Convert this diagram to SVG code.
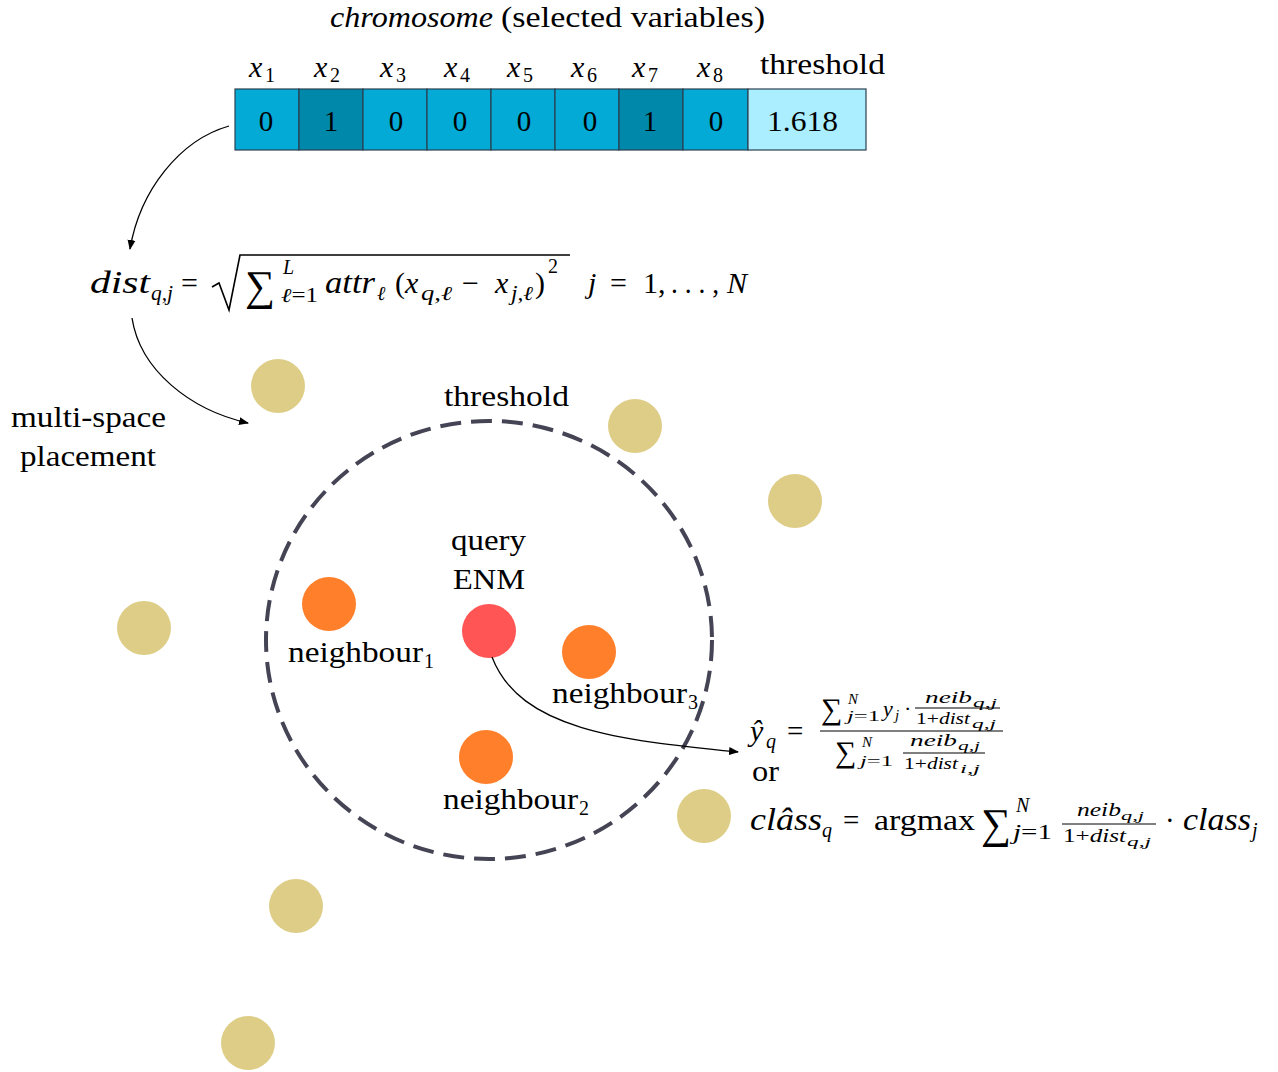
<svg xmlns="http://www.w3.org/2000/svg" width="1278" height="1072" viewBox="0 0 1278 1072">
<defs>
<style>
text{font-family:"Liberation Serif","DejaVu Serif",serif;fill:#000}
.t28{font-size:29px}
.i{font-style:italic}
.s20{font-size:20px}
.s15{font-size:15px}
.s12{font-size:12px}
.cell{stroke:#2b4050;stroke-width:1.2}
.c0{fill:#02aad5}
.c1{fill:#0088aa}
.cth{fill:#aaeeff}
.bg{fill:#decd87}
.nb{fill:#ff7f2a}
.q{fill:#ff5555}
.conn{fill:none;stroke:#000;stroke-width:1.3}
.ctr{text-anchor:middle}
.bar{stroke:#000;stroke-width:1}
</style>
<marker id="ah" viewBox="0 0 10 10" refX="9" refY="5" markerWidth="10" markerHeight="10" markerUnits="userSpaceOnUse" orient="auto">
<path d="M0,1 L10,5 L0,9 Z" fill="#000"/>
</marker>
</defs>
<rect width="1278" height="1072" fill="#fff"/>

<g id="title" font-size="29">
<text x="330" y="27" class="i" textLength="163" lengthAdjust="spacingAndGlyphs">chromosome</text>
<text x="501" y="27" textLength="264" lengthAdjust="spacingAndGlyphs">(selected variables)</text>
</g>

<g id="chromosome">
<rect class="cell c0" x="235" y="89" width="64" height="61"/>
<rect class="cell c1" x="299" y="89" width="64" height="61"/>
<rect class="cell c0" x="363" y="89" width="64" height="61"/>
<rect class="cell c0" x="427" y="89" width="64" height="61"/>
<rect class="cell c0" x="491" y="89" width="64" height="61"/>
<rect class="cell c0" x="555" y="89" width="64" height="61"/>
<rect class="cell c1" x="619" y="89" width="64" height="61"/>
<rect class="cell c0" x="683" y="89" width="65" height="61"/>
<rect class="cell cth" x="748" y="89" width="118" height="61"/>
<g class="t28 ctr">
<text x="266" y="131">0</text>
<text x="331" y="131">1</text>
<text x="396" y="131">0</text>
<text x="460" y="131">0</text>
<text x="524" y="131">0</text>
<text x="590" y="131">0</text>
<text x="650" y="131">1</text>
<text x="716" y="131">0</text>
</g>
<text class="t28" x="767" y="131" textLength="71" lengthAdjust="spacingAndGlyphs">1.618</text>
<g font-size="30">
<text x="249" y="77" class="i">x</text><text x="265" y="82" class="s20">1</text>
<text x="314" y="77" class="i">x</text><text x="330" y="82" class="s20">2</text>
<text x="380" y="77" class="i">x</text><text x="396" y="82" class="s20">3</text>
<text x="444" y="77" class="i">x</text><text x="460" y="82" class="s20">4</text>
<text x="507" y="77" class="i">x</text><text x="523" y="82" class="s20">5</text>
<text x="571" y="77" class="i">x</text><text x="587" y="82" class="s20">6</text>
<text x="632" y="77" class="i">x</text><text x="648" y="82" class="s20">7</text>
<text x="697" y="77" class="i">x</text><text x="713" y="82" class="s20">8</text>
<text x="760" y="74" font-size="29" textLength="125" lengthAdjust="spacingAndGlyphs">threshold</text>
</g>
</g>

<g id="dist-formula" font-size="30">
<text x="90" y="293" class="i" font-size="32" textLength="60" lengthAdjust="spacingAndGlyphs">dist</text>
<text x="151" y="300" class="s20 i" textLength="22" lengthAdjust="spacingAndGlyphs">q,j</text>
<text x="181" y="293">=</text>
<path d="M212,287 L219,283 L229,310 L240,255 L570,255" fill="none" stroke="#000" stroke-width="1.6"/>
<text x="245" y="300" font-size="42">∑</text>
<text x="283" y="274" class="s20 i">L</text>
<text x="281" y="302" class="s20" textLength="37" lengthAdjust="spacingAndGlyphs"><tspan class="i">ℓ</tspan>=1</text>
<text x="325" y="293" class="i" font-size="32" textLength="50" lengthAdjust="spacingAndGlyphs">attr</text>
<text x="377" y="300" class="s20 i">ℓ</text>
<text x="395" y="293">(</text>
<text x="405" y="293" class="i">x</text>
<text x="421" y="300" class="s20 i" textLength="31" lengthAdjust="spacingAndGlyphs">q,ℓ</text>
<text x="462" y="293">−</text>
<text x="495" y="293" class="i">x</text>
<text x="511" y="300" class="s20 i" textLength="22" lengthAdjust="spacingAndGlyphs">j,ℓ</text>
<text x="535" y="293">)</text>
<text x="548" y="273" class="s20">2</text>
<text x="588" y="293" class="i">j</text>
<text x="610" y="293">=</text>
<text x="643" y="293">1,</text>
<text x="671" y="293" textLength="48" lengthAdjust="spacingAndGlyphs">. . . ,</text>
<text x="727" y="293" class="i">N</text>
</g>

<g id="region">
<ellipse cx="489" cy="640" rx="223" ry="219" fill="none" stroke="#444455" stroke-width="4" stroke-dasharray="21,10"/>
<text class="t28" x="444" y="406" textLength="125" lengthAdjust="spacingAndGlyphs">threshold</text>
</g>

<g id="placement-label" class="t28">
<text x="11" y="427" textLength="155" lengthAdjust="spacingAndGlyphs">multi-space</text>
<text x="20" y="466" textLength="136" lengthAdjust="spacingAndGlyphs">placement</text>
</g>

<g id="background-points">
<circle class="bg" cx="278" cy="386" r="27"/>
<circle class="bg" cx="635" cy="426" r="27"/>
<circle class="bg" cx="795" cy="501" r="27"/>
<circle class="bg" cx="144" cy="628" r="27"/>
<circle class="bg" cx="704" cy="816" r="27"/>
<circle class="bg" cx="296" cy="906" r="27"/>
<circle class="bg" cx="248" cy="1043" r="27"/>
</g>

<g id="neighbour1">
<circle class="nb" cx="329" cy="604" r="27"/>
<text class="t28" x="288" y="662" textLength="135" lengthAdjust="spacingAndGlyphs">neighbour</text>
<text class="s20" x="424" y="668">1</text>
</g>
<g id="neighbour2">
<circle class="nb" cx="486" cy="757" r="27"/>
<text class="t28" x="443" y="809" textLength="135" lengthAdjust="spacingAndGlyphs">neighbour</text>
<text class="s20" x="579" y="815">2</text>
</g>
<g id="neighbour3">
<circle class="nb" cx="589" cy="652" r="27"/>
<text class="t28" x="552" y="703" textLength="135" lengthAdjust="spacingAndGlyphs">neighbour</text>
<text class="s20" x="688" y="709">3</text>
</g>
<g id="query">
<circle class="q" cx="489" cy="631" r="27"/>
<text class="t28" x="451" y="550" textLength="75" lengthAdjust="spacingAndGlyphs">query</text>
<text class="t28" x="453" y="589" textLength="72" lengthAdjust="spacingAndGlyphs">ENM</text>
</g>

<g id="prediction-formula">
<text x="750" y="741" font-size="30" class="i">ŷ</text>
<text x="766" y="748" class="s20 i">q</text>
<text x="787" y="741" font-size="29">=</text>
<line class="bar" x1="820" y1="731" x2="1003" y2="731" stroke-width="1.2"/>
<text x="821" y="719" font-size="30">∑</text>
<text x="848" y="704" class="s15 i">N</text>
<text x="847" y="721" class="s15" textLength="33" lengthAdjust="spacingAndGlyphs"><tspan class="i">j</tspan>=1</text>
<text x="883" y="716" font-size="22" class="i">y</text>
<text x="895" y="720" class="s15 i">j</text>
<text x="904" y="716" font-size="22">·</text>
<text x="925" y="703" font-size="16" class="i" textLength="47" lengthAdjust="spacingAndGlyphs">neib</text>
<text x="973" y="707" class="s12 i" textLength="24" lengthAdjust="spacingAndGlyphs">q,j</text>
<line class="bar" x1="915" y1="708" x2="1000" y2="708"/>
<text x="916" y="724" font-size="16" textLength="54" lengthAdjust="spacingAndGlyphs">1+<tspan class="i">dist</tspan></text>
<text x="972" y="728" class="s12 i" textLength="24" lengthAdjust="spacingAndGlyphs">q,j</text>
<text x="835" y="762" font-size="30">∑</text>
<text x="862" y="747" class="s15 i">N</text>
<text x="860" y="766" class="s15" textLength="33" lengthAdjust="spacingAndGlyphs"><tspan class="i">j</tspan>=1</text>
<text x="910" y="746" font-size="16" class="i" textLength="47" lengthAdjust="spacingAndGlyphs">neib</text>
<text x="958" y="750" class="s12 i" textLength="22" lengthAdjust="spacingAndGlyphs">q,j</text>
<line class="bar" x1="903" y1="753" x2="985" y2="753"/>
<text x="904" y="769" font-size="16" textLength="54" lengthAdjust="spacingAndGlyphs">1+<tspan class="i">dist</tspan></text>
<text x="960" y="773" class="s12 i" textLength="20" lengthAdjust="spacingAndGlyphs">i,j</text>
<text x="752" y="781" font-size="29" textLength="27" lengthAdjust="spacingAndGlyphs">or</text>
<text x="750" y="830" font-size="32" class="i" textLength="72" lengthAdjust="spacingAndGlyphs">clâss</text>
<text x="822" y="837" class="s20 i">q</text>
<text x="843" y="830" font-size="29">=</text>
<text x="874" y="830" font-size="29" textLength="101" lengthAdjust="spacingAndGlyphs">argmax</text>
<text x="981" y="838" font-size="42">∑</text>
<text x="1016" y="812" class="s20 i">N</text>
<text x="1013" y="839" class="s20" textLength="39" lengthAdjust="spacingAndGlyphs"><tspan class="i">j</tspan>=1</text>
<text x="1077" y="816" font-size="18" class="i" textLength="44" lengthAdjust="spacingAndGlyphs">neib</text>
<text x="1121" y="820" font-size="13" class="i" textLength="23" lengthAdjust="spacingAndGlyphs">q,j</text>
<line class="bar" x1="1062" y1="824" x2="1156" y2="824"/>
<text x="1063" y="842" font-size="18" textLength="63" lengthAdjust="spacingAndGlyphs">1+<tspan class="i">dist</tspan></text>
<text x="1127" y="846" font-size="13" class="i" textLength="24" lengthAdjust="spacingAndGlyphs">q,j</text>
<text x="1165" y="830" font-size="29">·</text>
<text x="1183" y="830" font-size="32" class="i" textLength="68" lengthAdjust="spacingAndGlyphs">class</text>
<text x="1252" y="837" class="s20 i">j</text>
</g>

<g id="connectors">
<path class="conn" d="M229,126 C180,140 140,190 130,249" marker-end="url(#ah)"/>
<path class="conn" d="M132,318 C140,370 190,410 248,423" marker-end="url(#ah)"/>
<path class="conn" d="M492,657 C520,730 620,740 738,752" marker-end="url(#ah)"/>
</g>
</svg>
